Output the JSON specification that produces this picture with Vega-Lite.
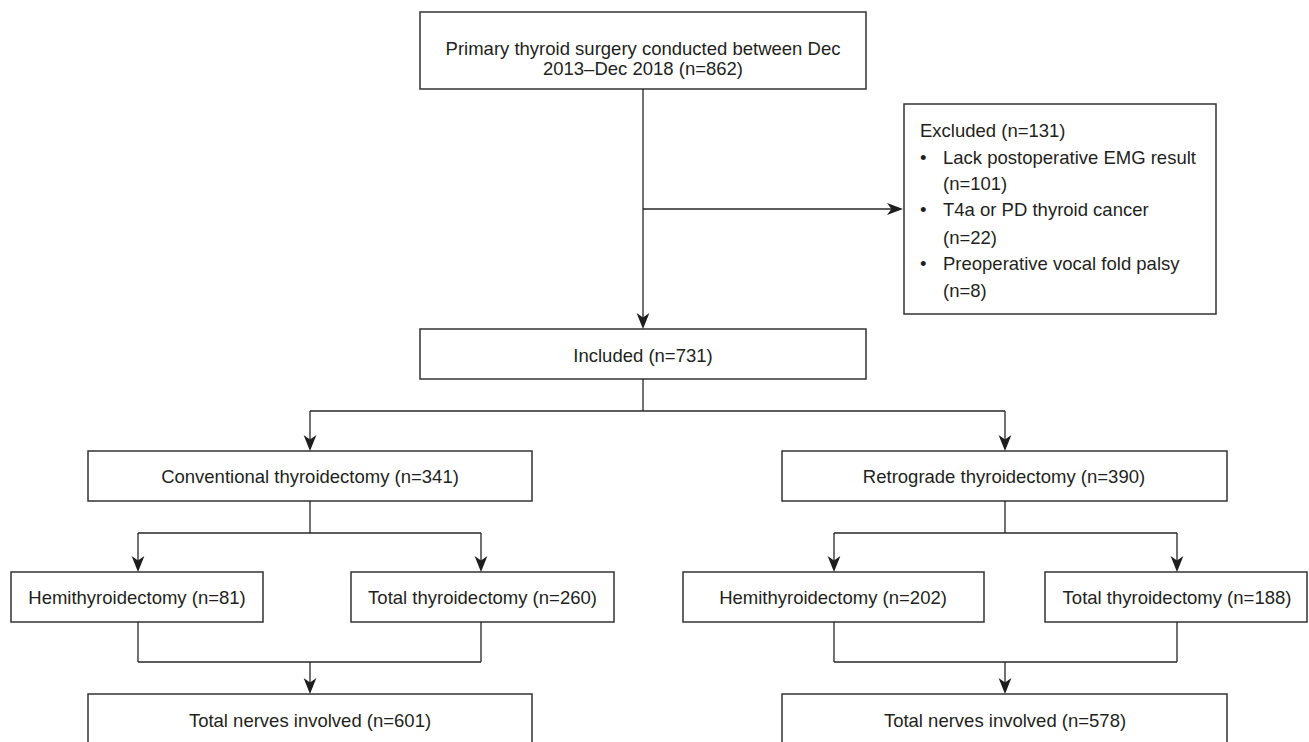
{
  "$schema": "https://vega.github.io/schema/vega-lite/v6.json",
  "width": 1309,
  "height": 742,
  "padding": 0,
  "autosize": "none",
  "background": "white",
  "config": {"view": {"stroke": null}},
  "datasets": {
    "boxes": [
      {"id": "top", "x": 420, "x2": 866, "y": 12, "y2": 89},
      {"id": "excluded", "x": 904, "x2": 1216, "y": 104, "y2": 314},
      {"id": "included", "x": 420, "x2": 866, "y": 329, "y2": 379},
      {"id": "conventional", "x": 88, "x2": 532, "y": 451, "y2": 501},
      {"id": "retrograde", "x": 782, "x2": 1227, "y": 451, "y2": 501},
      {"id": "hemi81", "x": 11, "x2": 263, "y": 572, "y2": 622},
      {"id": "total260", "x": 351, "x2": 614, "y": 572, "y2": 622},
      {"id": "hemi202", "x": 683, "x2": 984, "y": 572, "y2": 622},
      {"id": "total188", "x": 1045, "x2": 1307, "y": 572, "y2": 622},
      {"id": "nerves601", "x": 88, "x2": 532, "y": 694, "y2": 746},
      {"id": "nerves578", "x": 782, "x2": 1227, "y": 694, "y2": 746}
    ],
    "segments": [
      {"x": 643, "y": 89, "x2": 643, "y2": 320},
      {"x": 643, "y": 209, "x2": 894, "y2": 209},
      {"x": 643, "y": 379, "x2": 643, "y2": 411},
      {"x": 310, "y": 411, "x2": 1005, "y2": 411},
      {"x": 310, "y": 411, "x2": 310, "y2": 442},
      {"x": 1005, "y": 411, "x2": 1005, "y2": 442},
      {"x": 310, "y": 501, "x2": 310, "y2": 533},
      {"x": 138, "y": 533, "x2": 481, "y2": 533},
      {"x": 138, "y": 533, "x2": 138, "y2": 563},
      {"x": 481, "y": 533, "x2": 481, "y2": 563},
      {"x": 1005, "y": 501, "x2": 1005, "y2": 533},
      {"x": 834, "y": 533, "x2": 1177, "y2": 533},
      {"x": 834, "y": 533, "x2": 834, "y2": 563},
      {"x": 1177, "y": 533, "x2": 1177, "y2": 563},
      {"x": 138, "y": 622, "x2": 138, "y2": 662},
      {"x": 481, "y": 622, "x2": 481, "y2": 662},
      {"x": 138, "y": 662, "x2": 481, "y2": 662},
      {"x": 310, "y": 662, "x2": 310, "y2": 685},
      {"x": 834, "y": 622, "x2": 834, "y2": 662},
      {"x": 1177, "y": 622, "x2": 1177, "y2": 662},
      {"x": 834, "y": 662, "x2": 1177, "y2": 662},
      {"x": 1005, "y": 662, "x2": 1005, "y2": 685}
    ],
    "arrows": [
      {"x": 643, "y": 329, "dir": "down"},
      {"x": 903, "y": 209, "dir": "right"},
      {"x": 310, "y": 451, "dir": "down"},
      {"x": 1005, "y": 451, "dir": "down"},
      {"x": 138, "y": 572, "dir": "down"},
      {"x": 481, "y": 572, "dir": "down"},
      {"x": 834, "y": 572, "dir": "down"},
      {"x": 1177, "y": 572, "dir": "down"},
      {"x": 310, "y": 694, "dir": "down"},
      {"x": 1005, "y": 694, "dir": "down"}
    ],
    "centered": [
      {"x": 643, "y": 49, "label": "Primary thyroid surgery conducted between Dec"},
      {"x": 643, "y": 69, "label": "2013–Dec 2018 (n=862)"},
      {"x": 643, "y": 355.5, "label": "Included (n=731)"},
      {"x": 310, "y": 477, "label": "Conventional thyroidectomy (n=341)"},
      {"x": 1004, "y": 477, "label": "Retrograde thyroidectomy (n=390)"},
      {"x": 137, "y": 598, "label": "Hemithyroidectomy (n=81)"},
      {"x": 482.5, "y": 598, "label": "Total thyroidectomy (n=260)"},
      {"x": 833, "y": 598, "label": "Hemithyroidectomy (n=202)"},
      {"x": 1177, "y": 598, "label": "Total thyroidectomy (n=188)"},
      {"x": 310, "y": 720.5, "label": "Total nerves involved (n=601)"},
      {"x": 1005, "y": 720.5, "label": "Total nerves involved (n=578)"}
    ],
    "leftaligned": [
      {"x": 920, "y": 131, "label": "Excluded (n=131)"},
      {"x": 920, "y": 157.5, "label": "•"},
      {"x": 943, "y": 157.5, "label": "Lack postoperative EMG result"},
      {"x": 943, "y": 184, "label": "(n=101)"},
      {"x": 920, "y": 210, "label": "•"},
      {"x": 943, "y": 210, "label": "T4a or PD thyroid cancer"},
      {"x": 943, "y": 237.5, "label": "(n=22)"},
      {"x": 920, "y": 263.5, "label": "•"},
      {"x": 943, "y": 263.5, "label": "Preoperative vocal fold palsy"},
      {"x": 943, "y": 291, "label": "(n=8)"}
    ]
  },
  "encoding": {
    "x": {"field": "x", "type": "quantitative", "scale": {"domain": [0, 1309], "nice": false, "zero": false}, "axis": null},
    "y": {"field": "y", "type": "quantitative", "scale": {"domain": [0, 742], "nice": false, "zero": false, "reverse": true}, "axis": null}
  },
  "layer": [
    {
      "data": {"name": "boxes"},
      "mark": {"type": "rect", "fill": "white", "stroke": "#333333", "strokeWidth": 1.5},
      "encoding": {"x2": {"field": "x2"}, "y2": {"field": "y2"}}
    },
    {
      "data": {"name": "segments"},
      "mark": {"type": "rule", "stroke": "#262626", "strokeWidth": 1.3},
      "encoding": {"x2": {"field": "x2"}, "y2": {"field": "y2"}}
    },
    {
      "data": {"name": "arrows"},
      "mark": {"type": "point", "filled": true, "size": 256, "color": "#1e1e1e", "opacity": 1, "strokeWidth": 0},
      "encoding": {
        "shape": {
          "field": "dir",
          "type": "nominal",
          "scale": {"domain": ["down", "right"], "range": ["M0,0L-0.8,-2L0,-1.45L0.8,-2Z", "M0,0L-2,-0.75L-1.45,0L-2,0.75Z"]},
          "legend": null
        }
      }
    },
    {
      "data": {"name": "centered"},
      "mark": {"type": "text", "align": "center", "baseline": "middle", "font": "Liberation Sans", "fontSize": 18.5, "fill": "#231f20"},
      "encoding": {"text": {"field": "label", "type": "nominal"}}
    },
    {
      "data": {"name": "leftaligned"},
      "mark": {"type": "text", "align": "left", "baseline": "middle", "font": "Liberation Sans", "fontSize": 18.5, "fill": "#231f20"},
      "encoding": {"text": {"field": "label", "type": "nominal"}}
    }
  ]
}
